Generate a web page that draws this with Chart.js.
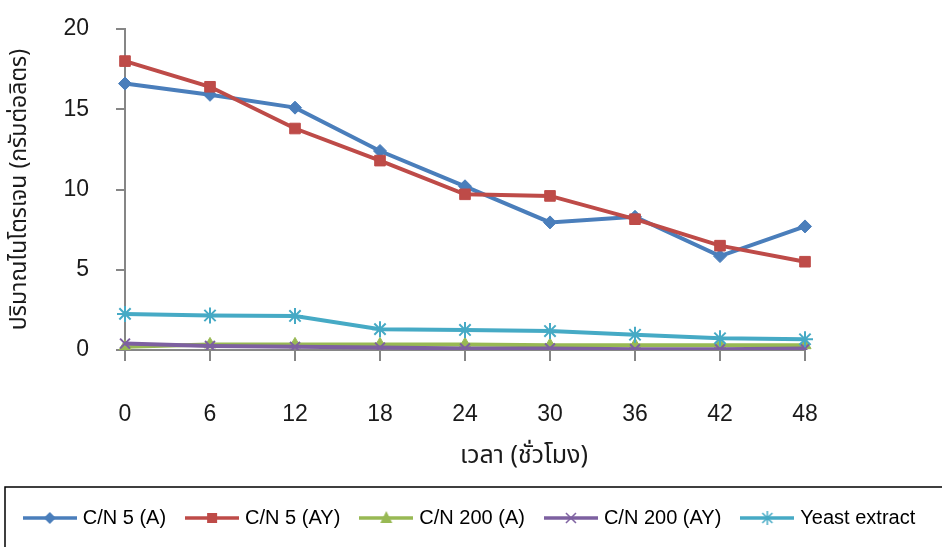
<!DOCTYPE html>
<html>
<head>
<meta charset="utf-8">
<script src="https://cdn.jsdelivr.net/npm/chart.js@4/dist/chart.umd.min.js"></script>
<style>
  html, body { margin: 0; padding: 0; background: #fff; }
</style>
</head>
<body>
<canvas id="nitrogenChart" width="942" height="547"></canvas>
<script>
// hours of sampling
const hours = ['0', '6', '12', '18', '24', '30', '36', '42', '48'];

// nitrogen (g/L) per treatment
const cn5A    = [16.6, 15.9, 15.1, 12.4, 10.2, 7.95, 8.3, 5.85, 7.7];
const cn5AY   = [18.0, 16.4, 13.8, 11.8, 9.7, 9.6, 8.15, 6.5, 5.5];
const cn200A  = [0.2, 0.35, 0.35, 0.35, 0.35, 0.3, 0.3, 0.3, 0.3];
const cn200AY = [0.4, 0.25, 0.2, 0.15, 0.1, 0.1, 0.05, 0.05, 0.1];
const yeast   = [2.25, 2.15, 2.12, 1.3, 1.25, 1.18, 0.95, 0.73, 0.67];

const seriesNames = ['C/N 5 (A)', 'C/N 5 (AY)', 'C/N 200 (A)', 'C/N 200 (AY)', 'Yeast extract'];
const yTicks = [0, 5, 10, 15, 20];

const colors = ['#4a7ebb', '#be4b48', '#98b954', '#7d60a0', '#46aac5'];
const shapes = ['rectRot', 'rect', 'triangle', 'crossRot', 'star'];
const radii = [6.5, 7.5, 7, 7, 8];

const axisGray = '#868686';
const latin = '"Liberation Sans", Arial, sans-serif';
const thai = '"Noto Sans Thai", "Noto Sans Thai Looped", Loma, Garuda, "Tlwg Typo", "Noto Sans", "DejaVu Sans", sans-serif';

// small line+marker glyph for the legend
function makeIcon(color, shape) {
    const c = document.createElement('canvas');
    c.width = 54;
    c.height = 18;
    const g = c.getContext('2d');
    g.strokeStyle = color;
    g.fillStyle = color;
    g.lineWidth = 3.5;
    g.beginPath();
    g.moveTo(0, 9);
    g.lineTo(54, 9);
    g.stroke();
    g.lineWidth = 1.5;
    g.beginPath();
    if (shape === 'rectRot') {
        g.moveTo(27, 3); g.lineTo(33, 9); g.lineTo(27, 15); g.lineTo(21, 9);
        g.closePath(); g.fill();
    } else if (shape === 'rect') {
        g.fillRect(22, 4, 10, 10);
    } else if (shape === 'triangle') {
        g.moveTo(27, 2); g.lineTo(33, 14); g.lineTo(21, 14);
        g.closePath(); g.fill();
    } else if (shape === 'crossRot') {
        g.moveTo(22, 4); g.lineTo(32, 14); g.moveTo(32, 4); g.lineTo(22, 14);
        g.stroke();
    } else {
        g.moveTo(27, 2); g.lineTo(27, 16); g.moveTo(22, 4); g.lineTo(32, 14);
        g.moveTo(32, 4); g.lineTo(22, 14);
        g.stroke();
    }
    return c;
}

const seriesData = [cn5A, cn5AY, cn200A, cn200AY, yeast];

const datasets = seriesData.map(function (values, i) {
    return {
        label: seriesNames[i],
        data: values,
        borderColor: colors[i],
        backgroundColor: colors[i],
        pointBackgroundColor: colors[i],
        pointBorderColor: colors[i],
        borderWidth: 4,
        pointStyle: shapes[i],
        pointRadius: radii[i],
        pointBorderWidth: (shapes[i] === 'crossRot' || shapes[i] === 'star') ? 2 : 1,
        tension: 0,
        fill: false,
        order: 4 - i
    };
});

const icons = colors.map(function (c, i) { return makeIcon(c, shapes[i]); });

// frame round the legend, running off the right and bottom edge
const legendFrame = {
    id: 'legendFrame',
    afterDraw(chart) {
        const lg = chart.legend;
        const ctx = chart.ctx;
        ctx.save();
        ctx.strokeStyle = '#000';
        ctx.lineWidth = 1.5;
        ctx.strokeRect(5, lg.top + 2, chart.width + 20, lg.height + 40);
        ctx.restore();
    }
};

// x title sits a bit right of the plot centre in the original
const xTitle = {
    id: 'xTitle',
    afterDraw(chart) {
        const ctx = chart.ctx;
        const area = chart.chartArea;
        ctx.save();
        ctx.font = '25px ' + thai;
        ctx.fillStyle = '#1a1a1a';
        ctx.textAlign = 'center';
        ctx.textBaseline = 'middle';
        ctx.fillText('เวลา (ชั่วโมง)', (area.left + area.right) / 2 + 59, area.bottom + 108);
        ctx.restore();
    }
};

new Chart(document.getElementById('nitrogenChart'), {
    type: 'line',
    data: {
        labels: hours,
        datasets: datasets
    },
    options: {
        responsive: false,
        animation: false,
        layout: { padding: { top: 29, right: 0, bottom: 9, left: 0 } },
        plugins: {
            tooltip: { enabled: false },
            legend: {
                position: 'bottom',
                labels: {
                    usePointStyle: true,
                    pointStyleWidth: 46,
                    padding: 23,
                    color: '#000',
                    font: { family: latin, size: 20 },
                    generateLabels: function (chart) {
                        return chart.data.datasets.map(function (ds, i) {
                            return {
                                text: ds.label,
                                pointStyle: icons[i],
                                fillStyle: 'transparent',
                                strokeStyle: 'transparent',
                                lineWidth: 0,
                                fontColor: '#000',
                                hidden: false,
                                datasetIndex: i
                            };
                        });
                    }
                }
            }
        },
        scales: {
            x: {
                offset: false,
                grid: { drawOnChartArea: false, tickLength: 11, color: axisGray, lineWidth: 2 },
                border: { color: axisGray, width: 2 },
                ticks: {
                    padding: 40,
                    color: '#1a1a1a',
                    maxRotation: 0,
                    autoSkip: false,
                    font: { family: latin, size: 23 }
                },
                afterFit: function (scale) { scale.height = 135; }
            },
            y: {
                min: 0,
                max: 20,
                afterBuildTicks: function (scale) {
                    scale.ticks = yTicks.map(function (v) { return { value: v }; });
                },
                grid: { drawOnChartArea: false, tickLength: 9, color: axisGray, lineWidth: 2 },
                border: { color: axisGray, width: 2 },
                ticks: {
                    padding: 27,
                    color: '#1a1a1a',
                    font: { family: latin, size: 23 }
                },
                title: {
                    display: true,
                    text: 'ปริมาณไนโตรเจน (กรัมต่อลิตร)',
                    color: '#1a1a1a',
                    font: { family: thai, size: 23 },
                    padding: { top: 8, bottom: 0 }
                },
                afterFit: function (scale) {
                    scale.width = 125;
                    // the wide label gap should not push the plot down
                    scale.paddingTop = 13;
                    scale.paddingBottom = 13;
                }
            },
            // empty spacer on the right so the plot ends where the original does
            spacer: {
                type: 'linear',
                position: 'right',
                display: true,
                grid: { display: false },
                border: { display: false },
                ticks: { display: false },
                afterFit: function (scale) { scale.width = 137; }
            }
        }
    },
    plugins: [legendFrame, xTitle]
});
</script>
</body>
</html>
